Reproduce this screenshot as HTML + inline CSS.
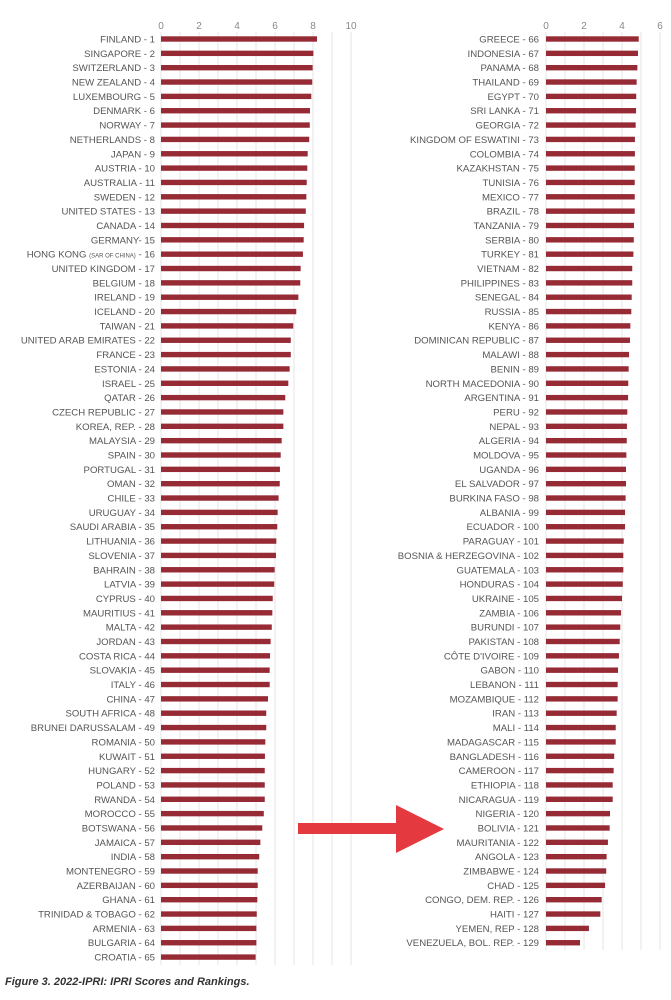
<!DOCTYPE html>
<html><head><meta charset="utf-8">
<style>
html,body{margin:0;padding:0;background:#fff;}
body{width:671px;height:1000px;overflow:hidden;position:relative;font-family:"Liberation Sans",sans-serif;}
#caption{position:absolute;left:5px;top:976px;font-size:11px;font-weight:bold;font-style:italic;color:#333;}
</style></head>
<body>
<svg id="chart" width="671" height="1000" style="position:absolute;left:0;top:0"></svg>
<div id="caption">Figure 3. 2022-IPRI: IPRI Scores and Rankings.</div>
<script>
const leftNames=["FINLAND","SINGAPORE","SWITZERLAND","NEW ZEALAND","LUXEMBOURG","DENMARK","NORWAY","NETHERLANDS","JAPAN","AUSTRIA","AUSTRALIA","SWEDEN","UNITED STATES","CANADA","GERMANY","HONG KONG","UNITED KINGDOM","BELGIUM","IRELAND","ICELAND","TAIWAN","UNITED ARAB EMIRATES","FRANCE","ESTONIA","ISRAEL","QATAR","CZECH REPUBLIC","KOREA, REP.","MALAYSIA","SPAIN","PORTUGAL","OMAN","CHILE","URUGUAY","SAUDI ARABIA","LITHUANIA","SLOVENIA","BAHRAIN","LATVIA","CYPRUS","MAURITIUS","MALTA","JORDAN","COSTA RICA","SLOVAKIA","ITALY","CHINA","SOUTH AFRICA","BRUNEI DARUSSALAM","ROMANIA","KUWAIT","HUNGARY","POLAND","RWANDA","MOROCCO","BOTSWANA","JAMAICA","INDIA","MONTENEGRO","AZERBAIJAN","GHANA","TRINIDAD & TOBAGO","ARMENIA","BULGARIA","CROATIA"];
const leftValues=[8.21,8.02,7.98,7.96,7.91,7.84,7.83,7.80,7.72,7.70,7.67,7.65,7.62,7.53,7.51,7.47,7.35,7.33,7.23,7.12,6.96,6.83,6.83,6.77,6.70,6.54,6.44,6.44,6.35,6.30,6.26,6.25,6.19,6.14,6.12,6.07,6.05,5.98,5.96,5.88,5.86,5.83,5.77,5.74,5.72,5.72,5.63,5.54,5.54,5.49,5.47,5.46,5.46,5.46,5.41,5.33,5.23,5.17,5.09,5.09,5.07,5.04,5.02,5.02,4.98];
const rightNames=["GREECE","INDONESIA","PANAMA","THAILAND","EGYPT","SRI LANKA","GEORGIA","KINGDOM OF ESWATINI","COLOMBIA","KAZAKHSTAN","TUNISIA","MEXICO","BRAZIL","TANZANIA","SERBIA","TURKEY","VIETNAM","PHILIPPINES","SENEGAL","RUSSIA","KENYA","DOMINICAN REPUBLIC","MALAWI","BENIN","NORTH MACEDONIA","ARGENTINA","PERU","NEPAL","ALGERIA","MOLDOVA","UGANDA","EL SALVADOR","BURKINA FASO","ALBANIA","ECUADOR","PARAGUAY","BOSNIA & HERZEGOVINA","GUATEMALA","HONDURAS","UKRAINE","ZAMBIA","BURUNDI","PAKISTAN","CÔTE D'IVOIRE","GABON","LEBANON","MOZAMBIQUE","IRAN","MALI","MADAGASCAR","BANGLADESH","CAMEROON","ETHIOPIA","NICARAGUA","NIGERIA","BOLIVIA","MAURITANIA","ANGOLA","ZIMBABWE","CHAD","CONGO, DEM. REP.","HAITI","YEMEN, REP","VENEZUELA, BOL. REP."];
const rightValues=[4.88,4.84,4.81,4.77,4.75,4.74,4.72,4.68,4.68,4.67,4.67,4.67,4.67,4.63,4.62,4.60,4.54,4.54,4.51,4.49,4.44,4.42,4.37,4.35,4.33,4.32,4.28,4.26,4.25,4.23,4.21,4.21,4.19,4.16,4.16,4.09,4.07,4.07,4.04,4.00,3.95,3.91,3.88,3.84,3.79,3.77,3.77,3.72,3.67,3.67,3.59,3.56,3.51,3.51,3.37,3.35,3.26,3.19,3.17,3.11,2.93,2.86,2.26,1.79];
const leftTicks=[0,2,4,6,8,10];
const rightTicks=[0,2,4,6];

const NS="http://www.w3.org/2000/svg";
const svg=document.getElementById('chart');
function mk(tag,attrs){const e=document.createElementNS(NS,tag);for(const k in attrs)e.setAttribute(k,attrs[k]);svg.appendChild(e);return e;}

function panel(names,values,ticks,x0,labelX,startRank,maxV,gridBottom,side){
  const ppu=19, y0=39, step=14.345;
  const xs=v=>x0+v*ppu;
  const ys=i=>y0+i*step;
  for(let g=0;g<=maxV;g++){
    const l=mk('line',{x1:xs(g),x2:xs(g),y1:32,y2:gridBottom,stroke:'#e6e6e6','stroke-width':1});
    
    
  }
  ticks.forEach(t=>{
    const tx=mk('text',{x:xs(t),y:29,'text-anchor':'middle','font-size':'10',fill:'#888','font-family':'Liberation Sans, sans-serif'});
    tx.textContent=t;
    
    
  });
  names.forEach((n,i)=>{
    const y=ys(i);
    const r=mk('rect',{x:x0,y:y-2.7,width:Math.max(0,xs(values[i])-x0),height:5.4,fill:'#962a35'});
    
    
    const t=mk('text',{x:labelX,y:y+3.5,'text-anchor':'end','font-size':'9.6',fill:'#555','font-family':'Liberation Sans, sans-serif'});
    const rank=startRank+i;
    if(n==="HONG KONG"){
      t.innerHTML='HONG KONG <tspan font-size="6">(SAR OF CHINA)</tspan> - '+rank;
    } else if(n==="GERMANY"){
      t.textContent=n+'- '+rank;
    } else t.textContent=n+' - '+rank;
    
    
  });
}
panel(leftNames,leftValues,leftTicks,161,155,1,10,965,'left');
panel(rightNames,rightValues,rightTicks,546,539,66,6,950,'right');

const arrow=mk('polygon',{points:'298,823 396,823 396,805 444,829 396,853 396,834 298,834',fill:'#e53940'});


</script>
</body></html>
